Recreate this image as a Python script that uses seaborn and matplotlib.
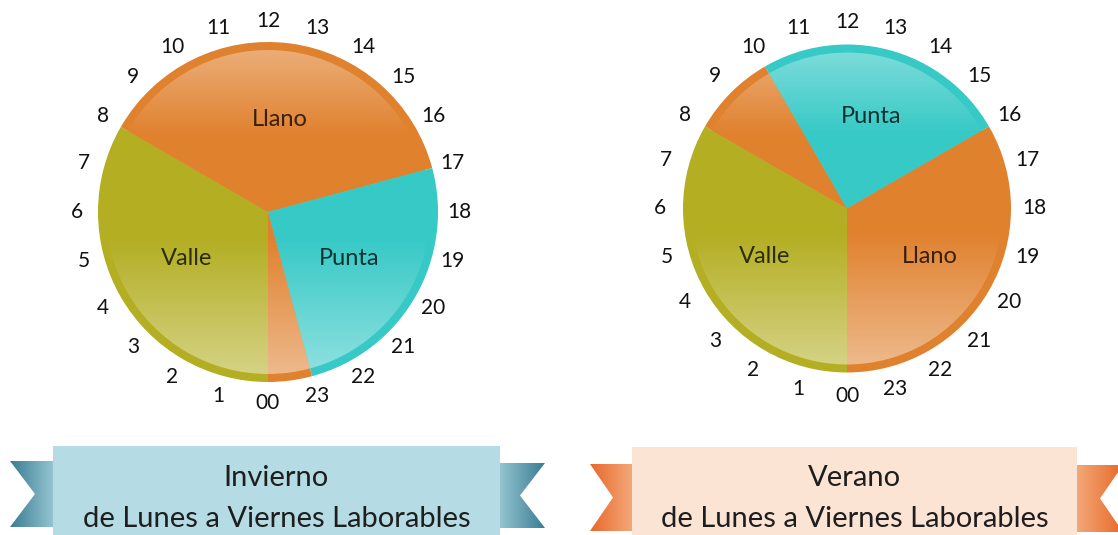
import numpy as np
import matplotlib
matplotlib.use("Agg")
import matplotlib.pyplot as plt
from matplotlib.patches import Polygon, Rectangle
from matplotlib.colors import to_rgb
import seaborn as sns

sns.set_theme(style="white")
plt.rcParams["font.family"] = ["Lato", "DejaVu Sans"]

# ---- data -------------------------------------------------------------
hour_labels = ["00"] + [str(h) for h in range(1, 24)]

period_colors = {"Valle": "#B3AE22", "Llano": "#E0812E", "Punta": "#36C9C6"}

winter_periods = ["Valle", "Llano", "Punta", "Llano"]
winter_hours = [8, 9, 6, 1]

summer_periods = ["Valle", "Llano", "Punta", "Llano"]
summer_hours = [8, 2, 6, 8]

winter_title = ["Invierno", "de Lunes a Viernes Laborables"]
summer_title = ["Verano", "de Lunes a Viernes Laborables"]

# ---- figure (axes in pixel units, y pointing up) ----------------------
W, H = 1118, 535
fig = plt.figure(figsize=(W / 100, H / 100), dpi=100)
ax = fig.add_axes([0, 0, 1, 1])


def shade_profile(u):
    """Whitening factor along the vertical axis of a dial (u=-1 bottom, 1 top)."""
    top = 0.38 * np.clip((u - 0.45) / 0.55, 0, 1)
    bottom = 0.47 * np.clip((-u - 0.15) / 0.85, 0, 1)
    return top + bottom


def vertical_gradient(color, n=256):
    u = np.linspace(-1, 1, n)
    f = shade_profile(u)[:, None]
    base = np.array(to_rgb(color))[None, :]
    img = base + (1 - base) * f
    return img[:, None, :]


def draw_dial(ax, periods, hours, cx, cy, r, ring=8, label_gap=22, name_dist=0.56):
    colors = [period_colors[p] for p in periods]
    # outer wedges form the coloured rim
    ax.pie(hours, colors=colors, startangle=270, counterclock=False,
           radius=r, center=(cx, cy), wedgeprops=dict(linewidth=0, zorder=1))
    # inner wedges carry the shaded fill
    inner, _ = ax.pie(hours, colors=colors, startangle=270, counterclock=False,
                      radius=r - ring, center=(cx, cy),
                      wedgeprops=dict(linewidth=0, zorder=2))
    for wedge, col in zip(inner, colors):
        im = ax.imshow(vertical_gradient(col), extent=(cx - r, cx + r, cy - r, cy + r),
                       origin="lower", aspect="auto", interpolation="bilinear", zorder=3)
        im.set_clip_path(wedge)
        wedge.set_facecolor("none")
    # period names on the larger wedges
    for wedge, name, h in zip(inner, periods, hours):
        if h < 3:
            continue
        mid = np.deg2rad((wedge.theta1 + wedge.theta2) / 2)
        d = name_dist * r
        base = np.array(to_rgb(period_colors[name]))
        ax.text(cx + d * np.cos(mid), cy + d * np.sin(mid), name,
                ha="center", va="center", fontsize=17,
                color=tuple(base * 0.25), zorder=5)
    # hour ring
    R = r + label_gap
    for i, lab in enumerate(hour_labels):
        a = np.deg2rad(270 - 15 * i)
        ax.text(cx + R * np.cos(a), cy + R * np.sin(a), lab,
                ha="center", va="center", fontsize=15, color="#111111", zorder=5)


def tail(ax, x_out, x_in, y_top, y_bot, notch, dark, light):
    mid = (y_top + y_bot) / 2
    xa = x_out + notch if x_out < x_in else x_out - notch
    poly = Polygon([(x_out, y_top), (x_in, y_top), (x_in, y_bot), (x_out, y_bot), (xa, mid)],
                   closed=True, facecolor="none", edgecolor="none", zorder=1)
    ax.add_patch(poly)
    c0, c1 = np.array(to_rgb(dark)), np.array(to_rgb(light))
    t = np.linspace(0, 1, 128)[:, None]
    row = (c0 + (c1 - c0) * t)[None, :, :]
    x_left, x_right = min(x_out, x_in), max(x_out, x_in)
    if x_out > x_in:
        row = row[:, ::-1, :]
    im = ax.imshow(row, extent=(x_left, x_right, y_bot, y_top), origin="lower",
                   aspect="auto", interpolation="bilinear", zorder=1)
    im.set_clip_path(poly)


def banner(ax, x0, x1, y_top, tails, rect_color, dark, light, lines):
    for (xo, xi, yt, yb, nd) in tails:
        tail(ax, xo, xi, yt, yb, nd, dark, light)
    ax.add_patch(Rectangle((x0, -5), x1 - x0, y_top + 5, facecolor=rect_color,
                           edgecolor="none", zorder=2))
    xc = (x0 + x1) / 2
    ax.text(xc, 57, lines[0], ha="center", va="center", fontsize=21,
            color="#1e1e1e", zorder=5)
    ax.text(xc, 16, lines[1], ha="center", va="center", fontsize=21,
            color="#1e1e1e", zorder=5)


draw_dial(ax, winter_periods, winter_hours, cx=268, cy=H - 212, r=170,
          label_gap=21, name_dist=0.55)
draw_dial(ax, summer_periods, summer_hours, cx=847, cy=H - 208.5, r=164,
          label_gap=23, name_dist=0.58)

banner(ax, 53, 500, 89,
       [(10, 53, 74, 8, 25), (545, 500, 72, 7, 25)],
       "#B5DCE5", "#3A7C93", "#93C4D0", winter_title)
banner(ax, 632, 1077, 88,
       [(590, 632, 71, 4, 23), (1123, 1077, 70, 3, 23)],
       "#FCE4D5", "#E8682A", "#F3A878", summer_title)

ax.set_xlim(0, W)
ax.set_ylim(0, H)
ax.set_aspect("equal")
ax.axis("off")
fig.savefig("out.png", dpi=100, facecolor="white")
